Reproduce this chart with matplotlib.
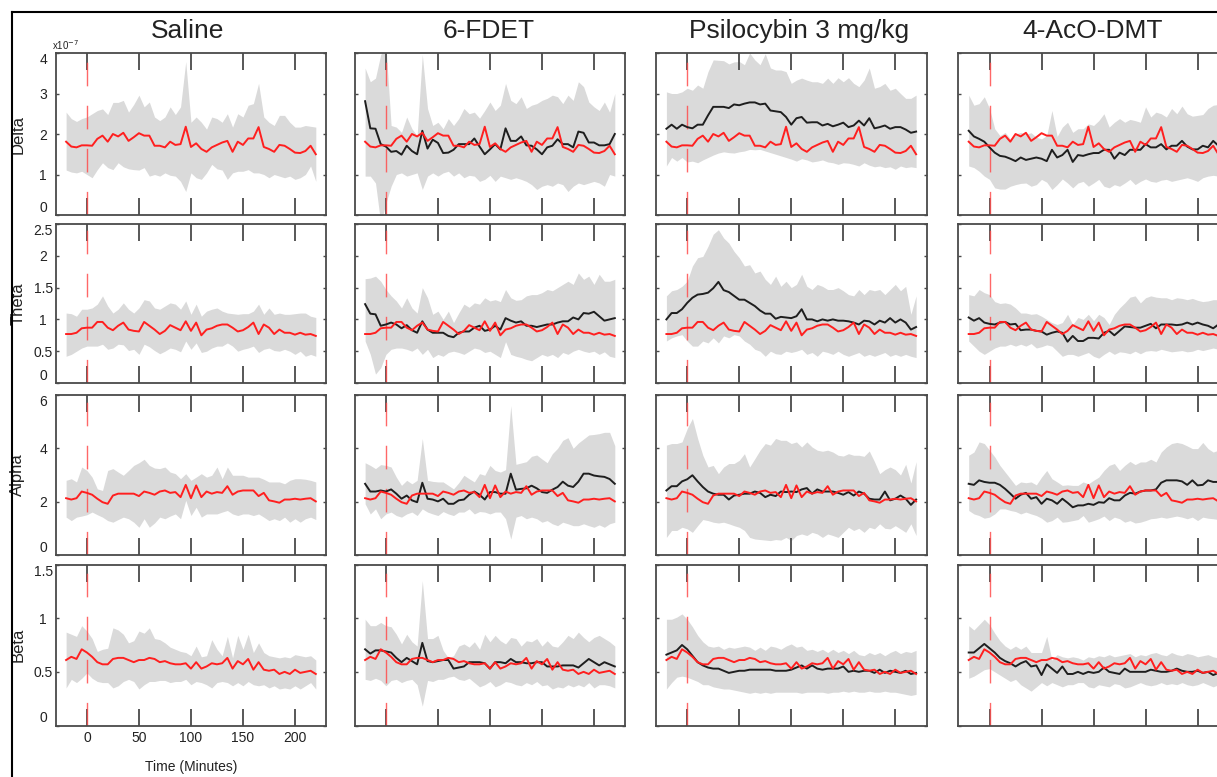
import numpy as np
import matplotlib
matplotlib.use('Agg')
import matplotlib.pyplot as plt
from matplotlib.lines import Line2D

plt.rcParams['font.family'] = ['Liberation Sans', 'DejaVu Sans']

# ---------------- data ----------------
t_start, t_step = -20, 5          # minutes; one sample every 5 min
columns = ['Saline', '6-FDET', 'Psilocybin 3 mg/kg', '4-AcO-DMT']
bands = ['Delta', 'Theta', 'Alpha', 'Beta']
x_ticks = [0, 50, 100, 150, 200]
x_ticklabels = ['0', '50', '100', '150', '200']
x_label = 'Time (Minutes)'
delta_scale_label = 'x10$^{-7}$'

delta_yticks = [0, 1, 2, 3, 4]
theta_yticks = [0, 0.5, 1, 1.5, 2, 2.5]
alpha_yticks = [0, 2, 4, 6]
beta_yticks = [0, 0.5, 1, 1.5]
delta_yticklabels = ['0', '1', '2', '3', '4']
theta_yticklabels = ['0', '0.5', '1', '1.5', '2', '2.5']
alpha_yticklabels = ['0', '2', '4', '6']
beta_yticklabels = ['0', '0.5', '1', '1.5']

# Delta (x1e-7)
saline_delta_mean = [1.81,1.69,1.67,1.72,1.72,1.71,1.88,1.96,1.81,2.00,1.94,2.03,1.83,1.92,2.02,1.96,1.96,1.71,1.71,1.67,1.81,1.73,1.75,2.18,1.68,1.77,1.63,1.56,1.67,1.73,1.79,1.83,1.56,1.81,1.73,1.89,1.89,2.17,1.68,1.63,1.56,1.73,1.71,1.63,1.54,1.53,1.58,1.71,1.50]
saline_delta_hi = [2.54,2.38,2.31,2.38,2.42,2.50,2.58,2.62,2.48,2.78,2.78,2.83,2.54,2.73,2.96,2.67,2.79,2.42,2.33,2.42,2.67,2.48,2.67,3.79,2.29,2.42,2.29,2.12,2.42,2.38,2.29,2.50,2.17,2.50,2.42,2.71,2.75,3.25,2.42,2.29,2.21,2.46,2.46,2.29,2.17,2.17,2.21,2.19,2.17]
saline_delta_lo = [1.11,1.06,1.04,1.08,1.00,0.92,1.12,1.29,1.17,1.12,1.29,1.19,1.14,1.12,1.11,1.17,0.96,1.00,0.96,1.04,0.98,0.96,0.83,0.58,1.04,0.92,0.88,1.04,1.25,1.14,1.11,0.88,1.04,1.08,1.08,1.12,1.04,1.04,1.00,0.92,1.00,0.96,0.92,0.96,0.88,0.92,1.00,1.21,0.83]
fdet_delta_mean = [2.81,2.14,2.13,1.75,1.69,1.56,1.58,1.49,1.71,1.58,1.50,2.08,1.64,1.86,1.78,1.53,1.54,1.61,1.75,1.75,1.75,1.89,1.69,1.50,1.62,1.75,1.62,2.14,1.83,1.83,1.94,1.72,1.71,1.62,1.50,1.67,1.71,1.87,1.75,1.75,1.67,2.06,2.03,1.79,1.79,1.72,1.72,1.75,2.00]
fdet_delta_hi = [3.63,3.29,3.38,3.96,4.20,2.21,2.17,2.04,2.42,2.13,1.96,3.96,2.63,2.21,2.29,2.13,2.38,2.21,2.38,2.63,2.50,2.54,2.39,2.58,2.79,2.58,2.71,3.25,2.83,2.75,2.92,2.63,2.71,2.75,2.83,2.88,2.96,2.92,2.75,2.96,2.83,3.29,3.17,2.79,2.67,2.58,2.79,2.54,3.00]
fdet_delta_lo = [0.96,0.96,0.79,-0.20,0.29,0.71,1.00,1.04,0.96,1.00,1.04,0.63,0.96,1.04,0.96,1.04,1.08,0.96,1.04,0.92,0.98,0.96,0.83,0.88,0.98,0.83,0.96,0.92,0.88,0.92,0.88,0.83,0.75,0.63,0.71,0.75,0.71,0.79,0.75,0.58,0.71,0.79,0.75,0.79,0.83,0.79,0.71,1.00,0.96]
psilo_delta_mean = [2.13,2.23,2.13,2.23,2.17,2.14,2.23,2.23,2.46,2.67,2.67,2.67,2.64,2.73,2.71,2.75,2.78,2.78,2.73,2.75,2.58,2.56,2.54,2.42,2.23,2.39,2.42,2.28,2.29,2.29,2.21,2.25,2.19,2.23,2.28,2.17,2.21,2.33,2.21,2.39,2.14,2.17,2.21,2.13,2.17,2.17,2.11,2.03,2.06]
psilo_delta_hi = [3.04,3.00,3.00,3.04,3.13,3.08,3.21,3.13,3.54,3.83,3.82,3.81,3.73,3.78,3.79,3.71,4.00,3.83,3.71,3.98,3.63,3.58,3.58,3.54,3.25,3.33,3.38,3.33,3.29,3.29,3.25,3.38,3.25,3.39,3.29,3.39,3.25,3.17,3.33,3.63,3.13,3.17,3.25,3.08,3.13,3.00,2.88,2.88,2.96]
psilo_delta_lo = [1.21,1.42,1.33,1.42,1.31,1.33,1.29,1.36,1.42,1.48,1.53,1.56,1.54,1.53,1.56,1.58,1.62,1.61,1.62,1.58,1.54,1.50,1.46,1.42,1.38,1.33,1.39,1.36,1.31,1.33,1.36,1.31,1.29,1.25,1.29,1.28,1.25,1.21,1.29,1.23,1.19,1.21,1.17,1.19,1.13,1.21,1.17,1.19,1.17]
aco_delta_mean = [2.08,1.94,1.88,1.81,1.67,1.54,1.46,1.44,1.39,1.33,1.42,1.36,1.39,1.42,1.39,1.33,1.61,1.42,1.48,1.61,1.31,1.48,1.46,1.50,1.53,1.53,1.61,1.61,1.39,1.54,1.48,1.61,1.61,1.61,1.75,1.67,1.67,1.75,1.62,1.71,1.71,1.83,1.69,1.62,1.62,1.71,1.67,1.83,1.71]
aco_delta_hi = [2.96,2.71,2.75,2.92,2.63,2.13,1.96,2.04,1.88,2.00,2.04,2.00,2.03,1.92,1.88,1.96,2.58,1.94,2.17,2.29,2.04,2.13,2.13,2.25,2.21,2.33,2.50,2.17,2.29,2.38,2.29,2.36,2.33,2.29,2.67,2.42,2.54,2.50,2.42,2.63,2.50,2.69,2.50,2.44,2.46,2.48,2.63,2.71,2.73]
aco_delta_lo = [1.21,1.17,1.08,0.96,0.88,0.67,0.64,0.64,0.71,0.75,0.78,0.79,0.71,0.75,0.88,0.81,0.63,0.75,0.89,0.79,0.67,0.79,0.83,0.71,0.79,0.88,0.71,0.67,0.75,0.71,0.79,0.88,0.75,0.83,0.89,0.83,0.81,0.86,0.88,0.83,0.86,0.89,0.92,0.88,0.83,0.92,0.96,0.98,0.96]

# Theta
saline_theta_mean = [0.77,0.77,0.79,0.86,0.87,0.87,0.96,0.96,0.87,0.83,0.90,0.95,0.84,0.82,0.81,0.96,0.90,0.84,0.77,0.82,0.91,0.87,0.83,0.97,0.82,0.95,0.75,0.84,0.86,0.90,0.92,0.92,0.87,0.81,0.83,0.88,0.95,0.77,0.92,0.87,0.77,0.84,0.79,0.79,0.76,0.79,0.76,0.77,0.74]
saline_theta_hi = [1.10,1.09,1.05,1.16,1.16,1.18,1.24,1.37,1.21,1.10,1.16,1.26,1.16,1.10,1.18,1.31,1.29,1.18,1.16,1.21,1.26,1.24,1.16,1.29,1.08,1.24,1.05,1.13,1.16,1.18,1.13,1.10,1.09,1.08,1.09,1.09,1.13,1.24,1.08,1.18,1.08,1.10,1.08,1.08,1.09,1.10,1.10,1.05,1.03]
saline_theta_lo = [0.42,0.45,0.50,0.55,0.58,0.58,0.58,0.61,0.53,0.55,0.61,0.60,0.51,0.53,0.45,0.61,0.57,0.51,0.46,0.50,0.55,0.53,0.49,0.66,0.53,0.63,0.48,0.50,0.55,0.58,0.58,0.63,0.58,0.50,0.53,0.55,0.58,0.48,0.53,0.55,0.51,0.50,0.53,0.50,0.45,0.50,0.42,0.45,0.42]
fdet_theta_mean = [1.24,1.09,1.08,0.90,0.92,0.95,0.92,0.86,0.91,0.83,0.79,0.97,0.84,0.79,0.79,0.79,0.74,0.72,0.79,0.81,0.81,0.87,0.90,0.82,0.84,0.90,0.84,1.02,0.98,0.95,0.97,0.90,0.90,0.88,0.90,0.92,0.92,0.95,0.97,0.97,1.03,1.00,1.10,1.09,1.12,1.05,0.98,1.00,1.02]
fdet_theta_hi = [1.64,1.65,1.68,1.60,1.47,1.37,1.29,1.18,1.34,1.18,1.10,1.50,1.34,1.08,1.13,1.00,1.13,0.95,1.10,1.24,1.19,1.26,1.24,1.34,1.29,1.31,1.28,1.47,1.34,1.30,1.31,1.37,1.39,1.39,1.42,1.47,1.45,1.50,1.55,1.60,1.55,1.73,1.63,1.68,1.55,1.71,1.60,1.60,1.63]
fdet_theta_lo = [0.66,0.45,0.14,0.24,0.45,0.53,0.55,0.55,0.53,0.50,0.55,0.45,0.53,0.40,0.45,0.42,0.48,0.50,0.48,0.45,0.50,0.55,0.53,0.48,0.50,0.45,0.40,0.65,0.45,0.42,0.40,0.37,0.35,0.40,0.45,0.42,0.45,0.40,0.48,0.45,0.50,0.53,0.50,0.48,0.50,0.45,0.49,0.42,0.40]
psilo_theta_mean = [1.00,1.10,1.10,1.16,1.26,1.34,1.39,1.40,1.42,1.49,1.59,1.46,1.43,1.37,1.31,1.31,1.26,1.21,1.14,1.09,1.09,1.01,1.04,1.03,1.02,1.05,1.16,1.00,1.00,0.97,1.00,0.98,1.00,0.98,0.98,0.97,0.95,0.92,0.98,0.97,0.92,0.98,0.95,1.02,0.95,1.00,0.95,0.84,0.88]
psilo_theta_hi = [1.37,1.45,1.47,1.52,1.60,1.84,1.97,1.99,2.15,2.34,2.41,2.28,2.20,2.07,1.97,1.84,1.86,1.73,1.76,1.63,1.55,1.68,1.52,1.60,1.50,1.55,1.71,1.52,1.47,1.55,1.52,1.47,1.47,1.50,1.45,1.39,1.37,1.47,1.39,1.47,1.45,1.47,1.39,1.47,1.55,1.45,1.52,1.08,1.37]
psilo_theta_lo = [0.66,0.71,0.74,0.76,0.66,0.58,0.58,0.66,0.63,0.71,0.63,0.74,0.71,0.76,0.74,0.66,0.61,0.53,0.50,0.42,0.50,0.46,0.45,0.50,0.48,0.50,0.53,0.45,0.48,0.42,0.50,0.48,0.45,0.50,0.45,0.42,0.45,0.48,0.42,0.45,0.42,0.45,0.48,0.42,0.45,0.42,0.45,0.42,0.40]
aco_theta_mean = [1.03,0.98,1.02,0.95,0.93,0.92,0.95,0.96,0.92,0.93,0.83,0.84,0.84,0.82,0.81,0.76,0.79,0.81,0.79,0.65,0.74,0.66,0.66,0.71,0.71,0.70,0.79,0.82,0.75,0.82,0.89,0.88,0.87,0.87,0.90,0.93,0.86,0.92,0.92,0.92,0.91,0.92,0.95,0.92,0.95,0.92,0.90,0.86,0.92]
aco_theta_hi = [1.39,1.37,1.47,1.42,1.39,1.28,1.25,1.26,1.24,1.18,1.10,1.10,1.08,1.09,1.05,1.00,0.95,0.92,0.95,1.08,0.92,1.03,1.00,1.08,0.98,1.08,1.03,0.92,1.08,1.18,1.26,1.35,1.37,1.26,1.34,1.37,1.35,1.34,1.34,1.31,1.34,1.33,1.31,1.33,1.30,1.28,1.29,1.31,1.31]
aco_theta_lo = [0.66,0.58,0.50,0.45,0.50,0.55,0.58,0.58,0.61,0.58,0.61,0.58,0.62,0.55,0.57,0.60,0.58,0.50,0.42,0.45,0.45,0.42,0.45,0.48,0.42,0.39,0.45,0.50,0.45,0.49,0.48,0.46,0.50,0.46,0.50,0.51,0.50,0.53,0.51,0.49,0.50,0.51,0.49,0.50,0.53,0.51,0.53,0.55,0.53]

# Alpha
saline_alpha_mean = [2.13,2.08,2.13,2.38,2.33,2.26,2.11,1.98,1.92,2.23,2.30,2.30,2.30,2.30,2.21,2.38,2.33,2.26,2.38,2.42,2.33,2.36,2.17,2.63,2.13,2.61,2.17,2.38,2.30,2.36,2.33,2.58,2.26,2.38,2.42,2.42,2.42,2.21,2.33,2.05,2.01,1.96,2.08,2.08,2.11,2.08,2.11,2.13,2.01]
saline_alpha_hi = [2.80,2.86,2.74,3.30,3.17,2.92,2.48,2.42,3.17,3.24,3.11,2.99,3.17,3.36,3.46,3.59,3.36,3.26,3.24,3.30,3.11,3.05,2.86,3.05,2.80,2.92,3.05,2.92,2.99,3.30,2.86,3.30,2.99,2.99,2.99,2.92,2.92,2.92,2.84,2.74,2.74,2.74,2.67,2.80,2.86,2.86,2.84,2.80,2.74]
saline_alpha_lo = [1.42,1.29,1.42,1.46,1.51,1.61,1.51,1.42,1.29,1.23,1.33,1.42,1.36,1.23,1.04,1.36,1.04,1.20,1.42,1.36,1.46,1.54,1.36,2.05,1.48,1.79,1.42,1.54,1.54,1.54,1.61,1.67,1.54,1.48,1.54,1.54,1.48,1.54,1.42,1.29,1.36,1.29,1.42,1.23,1.36,1.23,1.36,1.42,1.33]
fdet_alpha_mean = [2.67,2.38,2.38,2.42,2.38,2.46,2.30,2.11,2.23,2.05,1.98,2.71,2.11,2.08,2.01,2.11,1.92,1.92,2.05,2.08,2.26,2.38,2.26,2.08,2.36,2.36,2.30,2.30,3.05,2.45,2.48,2.50,2.60,2.50,2.36,2.33,2.45,2.55,2.75,2.60,2.55,2.75,3.05,3.05,2.98,2.95,2.93,2.85,2.67]
fdet_alpha_hi = [3.46,3.36,3.24,3.39,3.36,3.30,2.92,2.61,2.80,2.67,2.80,4.37,2.80,2.76,2.74,2.74,2.61,2.48,2.71,2.99,2.86,2.74,3.05,2.99,3.36,3.17,3.11,3.20,5.60,3.40,3.45,3.50,3.70,3.75,3.60,3.46,3.80,4.00,4.30,4.40,4.00,4.20,4.35,4.50,4.52,4.55,4.60,4.60,4.10]
fdet_alpha_lo = [1.92,1.54,1.73,1.36,1.54,1.61,1.48,1.42,1.54,1.61,1.48,1.73,1.61,1.54,1.48,1.63,1.54,1.48,1.61,1.61,1.73,1.54,1.63,1.61,1.54,1.61,1.61,1.36,0.60,1.42,1.48,1.36,1.42,1.36,1.23,1.29,1.17,1.10,1.23,1.17,1.10,1.10,1.17,1.10,1.04,1.13,1.04,1.17,1.23]
psilo_alpha_mean = [2.42,2.58,2.58,2.76,2.84,2.99,2.76,2.55,2.38,2.30,2.26,2.26,2.08,2.23,2.26,2.30,2.30,2.38,2.33,2.17,2.26,2.21,2.38,2.36,2.38,2.36,2.46,2.51,2.30,2.46,2.38,2.38,2.38,2.33,2.26,2.36,2.23,2.38,2.30,2.11,2.08,2.08,2.38,2.05,2.11,2.23,2.11,1.88,2.08]
psilo_alpha_hi = [4.12,4.18,4.18,4.24,4.74,5.12,4.37,3.74,3.30,3.36,3.05,3.30,3.43,3.43,3.55,3.80,3.30,3.61,3.93,4.18,4.12,4.37,4.30,4.30,4.18,4.24,4.05,4.24,4.05,3.93,3.89,3.93,3.86,3.74,3.71,3.80,3.74,3.74,3.70,3.90,3.50,3.05,3.20,3.30,3.20,3.00,3.40,2.70,3.50]
psilo_alpha_lo = [0.66,0.92,0.92,1.04,0.98,0.85,1.10,1.33,1.29,1.23,1.20,1.23,1.17,1.10,1.04,0.92,0.66,0.60,0.58,0.56,0.54,0.58,0.56,0.66,0.54,0.73,0.79,0.73,0.85,0.79,0.66,0.79,0.73,0.66,0.85,1.04,0.92,1.00,0.85,1.04,0.98,1.17,1.00,0.98,1.10,0.98,0.85,1.17,0.73]
aco_alpha_mean = [2.67,2.63,2.80,2.74,2.71,2.71,2.63,2.48,2.30,2.11,2.26,2.33,2.11,2.17,1.92,2.11,2.05,1.92,2.11,1.96,1.79,1.86,1.86,1.92,1.88,1.98,1.96,2.13,2.05,2.05,2.23,2.33,2.30,2.38,2.42,2.42,2.46,2.71,2.80,2.80,2.80,2.76,2.63,2.80,2.61,2.63,2.80,2.74,2.74]
aco_alpha_hi = [3.74,3.86,4.24,4.18,3.93,3.68,3.36,3.11,2.86,2.61,2.74,2.71,2.74,2.63,2.92,3.17,2.86,2.74,2.61,2.63,2.61,2.61,2.74,2.67,2.80,2.92,3.17,3.36,3.43,3.17,3.36,3.51,3.39,3.49,3.49,3.59,3.49,3.86,4.05,4.18,4.22,4.18,4.09,3.99,3.99,4.22,3.99,3.86,3.93]
aco_alpha_lo = [1.67,1.54,1.48,1.38,1.42,1.54,1.73,1.73,1.67,1.63,1.54,1.61,1.54,1.48,1.38,1.23,1.29,1.42,1.23,1.25,1.29,1.33,1.48,1.23,1.29,1.36,1.46,1.29,1.42,1.36,1.23,1.29,1.20,1.23,1.29,1.36,1.38,1.42,1.38,1.42,1.46,1.42,1.36,1.42,1.29,1.42,1.38,1.36,1.33]

# Beta
saline_beta_mean = [0.61,0.64,0.62,0.71,0.68,0.64,0.59,0.57,0.57,0.62,0.63,0.63,0.61,0.59,0.61,0.61,0.63,0.62,0.59,0.60,0.58,0.57,0.57,0.58,0.53,0.59,0.53,0.55,0.58,0.57,0.58,0.63,0.53,0.60,0.57,0.62,0.52,0.59,0.52,0.51,0.52,0.48,0.50,0.48,0.52,0.49,0.50,0.51,0.48]
saline_beta_hi = [0.87,0.85,0.83,0.93,0.88,0.81,0.69,0.71,0.72,0.91,0.89,0.85,0.77,0.79,0.88,0.86,0.91,0.81,0.80,0.77,0.73,0.71,0.69,0.68,0.65,0.74,0.64,0.65,0.80,0.71,0.65,0.83,0.63,0.84,0.71,0.85,0.68,0.77,0.68,0.65,0.64,0.63,0.64,0.63,0.66,0.65,0.64,0.65,0.61]
saline_beta_lo = [0.35,0.43,0.40,0.44,0.49,0.44,0.41,0.40,0.40,0.35,0.37,0.41,0.43,0.41,0.34,0.38,0.41,0.41,0.42,0.42,0.40,0.41,0.41,0.43,0.38,0.41,0.40,0.38,0.35,0.40,0.41,0.40,0.37,0.40,0.37,0.41,0.38,0.37,0.38,0.35,0.37,0.34,0.35,0.34,0.37,0.34,0.37,0.40,0.34]
fdet_beta_mean = [0.71,0.67,0.70,0.70,0.69,0.68,0.63,0.59,0.63,0.60,0.57,0.77,0.60,0.59,0.60,0.61,0.61,0.53,0.54,0.55,0.59,0.59,0.59,0.58,0.53,0.59,0.59,0.58,0.62,0.59,0.59,0.58,0.58,0.59,0.59,0.55,0.55,0.55,0.56,0.56,0.56,0.54,0.58,0.62,0.59,0.56,0.59,0.57,0.55]
fdet_beta_hi = [0.99,0.93,0.93,0.96,0.93,0.92,0.85,0.76,0.85,0.78,0.74,1.35,0.81,0.81,0.84,0.70,0.63,0.65,0.74,0.76,0.73,0.78,0.71,0.85,0.78,0.84,0.79,0.76,0.82,0.81,0.74,0.79,0.78,0.81,0.74,0.79,0.74,0.73,0.78,0.84,0.81,0.87,0.82,0.78,0.82,0.84,0.81,0.78,0.74]
fdet_beta_lo = [0.43,0.42,0.44,0.42,0.37,0.42,0.43,0.40,0.42,0.43,0.38,0.18,0.42,0.41,0.43,0.43,0.45,0.46,0.43,0.42,0.44,0.40,0.36,0.38,0.41,0.36,0.38,0.41,0.40,0.38,0.37,0.40,0.38,0.41,0.37,0.38,0.34,0.36,0.35,0.38,0.36,0.38,0.36,0.40,0.35,0.38,0.38,0.37,0.35]
psilo_beta_mean = [0.66,0.68,0.70,0.75,0.71,0.65,0.59,0.56,0.54,0.53,0.53,0.51,0.49,0.50,0.51,0.51,0.52,0.52,0.52,0.52,0.52,0.51,0.51,0.51,0.52,0.54,0.56,0.53,0.56,0.53,0.52,0.53,0.53,0.53,0.55,0.50,0.51,0.50,0.51,0.51,0.49,0.52,0.49,0.51,0.50,0.49,0.51,0.48,0.49]
psilo_beta_hi = [0.99,0.99,1.01,1.04,0.99,0.92,0.84,0.78,0.74,0.73,0.74,0.71,0.73,0.72,0.73,0.74,0.73,0.70,0.73,0.70,0.74,0.73,0.71,0.74,0.76,0.73,0.74,0.70,0.71,0.69,0.71,0.68,0.71,0.68,0.70,0.67,0.70,0.66,0.65,0.68,0.66,0.68,0.65,0.68,0.70,0.67,0.69,0.68,0.70]
psilo_beta_lo = [0.34,0.40,0.45,0.46,0.45,0.43,0.41,0.38,0.38,0.36,0.35,0.34,0.34,0.33,0.32,0.31,0.30,0.31,0.30,0.31,0.30,0.31,0.31,0.31,0.31,0.31,0.30,0.31,0.31,0.31,0.31,0.30,0.31,0.31,0.32,0.31,0.32,0.31,0.31,0.32,0.31,0.31,0.32,0.31,0.31,0.30,0.29,0.28,0.29]
aco_beta_mean = [0.68,0.68,0.72,0.76,0.72,0.68,0.63,0.60,0.58,0.55,0.58,0.60,0.55,0.56,0.47,0.57,0.53,0.49,0.55,0.48,0.48,0.50,0.48,0.50,0.49,0.50,0.54,0.50,0.49,0.48,0.53,0.50,0.50,0.50,0.50,0.52,0.51,0.50,0.50,0.51,0.53,0.51,0.50,0.50,0.51,0.49,0.50,0.47,0.49]
aco_beta_hi = [0.93,0.89,0.94,0.99,0.94,0.86,0.79,0.74,0.71,0.74,0.71,0.74,0.68,0.68,0.68,0.83,0.61,0.66,0.64,0.63,0.64,0.63,0.61,0.64,0.63,0.65,0.64,0.66,0.64,0.65,0.66,0.67,0.64,0.66,0.65,0.67,0.68,0.66,0.65,0.68,0.66,0.65,0.67,0.66,0.64,0.65,0.66,0.64,0.63]
aco_beta_lo = [0.44,0.46,0.49,0.52,0.53,0.50,0.47,0.44,0.41,0.43,0.38,0.35,0.32,0.36,0.40,0.37,0.40,0.38,0.36,0.38,0.38,0.40,0.40,0.36,0.35,0.38,0.37,0.36,0.39,0.38,0.35,0.36,0.38,0.40,0.38,0.37,0.38,0.40,0.38,0.39,0.38,0.40,0.38,0.37,0.38,0.40,0.38,0.36,0.38]

# tables built from the named arrays
band_ticks = {'Delta': (delta_yticks, delta_yticklabels), 'Theta': (theta_yticks, theta_yticklabels),
              'Alpha': (alpha_yticks, alpha_yticklabels), 'Beta': (beta_yticks, beta_yticklabels)}
saline_mean = {'Delta': saline_delta_mean, 'Theta': saline_theta_mean,
               'Alpha': saline_alpha_mean, 'Beta': saline_beta_mean}
groups = {
    ('Saline', 'Delta'): (None, saline_delta_lo, saline_delta_hi),
    ('Saline', 'Theta'): (None, saline_theta_lo, saline_theta_hi),
    ('Saline', 'Alpha'): (None, saline_alpha_lo, saline_alpha_hi),
    ('Saline', 'Beta'): (None, saline_beta_lo, saline_beta_hi),
    ('6-FDET', 'Delta'): (fdet_delta_mean, fdet_delta_lo, fdet_delta_hi),
    ('6-FDET', 'Theta'): (fdet_theta_mean, fdet_theta_lo, fdet_theta_hi),
    ('6-FDET', 'Alpha'): (fdet_alpha_mean, fdet_alpha_lo, fdet_alpha_hi),
    ('6-FDET', 'Beta'): (fdet_beta_mean, fdet_beta_lo, fdet_beta_hi),
    ('Psilocybin 3 mg/kg', 'Delta'): (psilo_delta_mean, psilo_delta_lo, psilo_delta_hi),
    ('Psilocybin 3 mg/kg', 'Theta'): (psilo_theta_mean, psilo_theta_lo, psilo_theta_hi),
    ('Psilocybin 3 mg/kg', 'Alpha'): (psilo_alpha_mean, psilo_alpha_lo, psilo_alpha_hi),
    ('Psilocybin 3 mg/kg', 'Beta'): (psilo_beta_mean, psilo_beta_lo, psilo_beta_hi),
    ('4-AcO-DMT', 'Delta'): (aco_delta_mean, aco_delta_lo, aco_delta_hi),
    ('4-AcO-DMT', 'Theta'): (aco_theta_mean, aco_theta_lo, aco_theta_hi),
    ('4-AcO-DMT', 'Alpha'): (aco_alpha_mean, aco_alpha_lo, aco_alpha_hi),
    ('4-AcO-DMT', 'Beta'): (aco_beta_mean, aco_beta_lo, aco_beta_hi),
}


def times(series):
    return t_start + t_step * np.arange(len(series))


# ---------------- layout / style ----------------
W, H = 1217, 777
fig = plt.figure(figsize=(W / 100, H / 100), dpi=100)
col_left = [55.7, 354.7, 656.0, 958.3]
col_w = 270.5
row_top = [53.0, 224.0, 395.0, 564.5]
row_h = [162.0, 159.0, 160.0, 161.0]
title_x = [188, 489, 799, 1093]

GRAY = '#dadada'
RED = '#ff1f1f'
BLACK = '#1e1e1e'
EDGE = '#4a4a4a'
TXT = '#222222'

for r, band in enumerate(bands):
    ticks, ticklabels = band_ticks[band]
    for c, col in enumerate(columns):
        ax = fig.add_axes([col_left[c] / W, 1 - (row_top[r] + row_h[r]) / H,
                           col_w / W, row_h[r] / H])
        drug_mean, lo, hi = groups[(col, band)]
        n = min(len(lo), len(hi))
        ax.fill_between(times(lo)[:n], np.array(lo[:n]), np.array(hi[:n]),
                        color=GRAY, lw=0, zorder=1)
        ax.axvline(0, color='#ff4d4d', lw=1.0, alpha=0.85, dashes=(17, 14), zorder=2)
        if drug_mean is not None:
            ax.plot(times(drug_mean), drug_mean, color=BLACK, lw=1.4, zorder=3)
        sm = saline_mean[band]
        ax.plot(times(sm), sm, color=RED, lw=1.4, zorder=4)

        ax.set_xlim(-30, 230)
        ax.set_ylim(ticks[0], ticks[-1])
        ax.set_xticks(x_ticks)
        ax.set_yticks(ticks)
        for s in ax.spines.values():
            s.set_color(EDGE)
            s.set_linewidth(1.3)
        ax.tick_params(axis='x', direction='in', length=12.5, width=1.3, color=EDGE,
                       top=True, bottom=True, pad=4, labelsize=10, labelcolor=TXT)
        ax.tick_params(axis='y', direction='in', length=2.5, width=1.0, color=EDGE,
                       left=True, right=True, pad=9, labelsize=10, labelcolor=TXT)

        if c == 0:
            ax.set_yticklabels(ticklabels)
            labs = ax.get_yticklabels()
            for lab in labs:
                lab.set_ha('center')
            labs[0].set_va('bottom')
            labs[-1].set_va('top')
            ax.set_ylabel(band, fontsize=12, color=TXT)
            ax.yaxis.set_label_coords(-0.113, 0.5)
        else:
            ax.set_yticklabels([])

        if r == 3 and c == 0:
            ax.set_xticklabels(x_ticklabels)
            ax.set_xlabel(x_label, fontsize=10, color=TXT, labelpad=11)
        else:
            ax.set_xticklabels([])

        if r == 0 and c == 0:
            ax.text(-0.012, 1.004, delta_scale_label, transform=ax.transAxes,
                    ha='left', va='bottom', fontsize=7, color=TXT)

# column titles
for c, col in enumerate(columns):
    fig.text(title_x[c] / W, 1 - 38 / H, col, ha='center',
             va='baseline', fontsize=19, color=TXT)

# outer frame lines (left and top border of the original figure crop)
fig.add_artist(Line2D([11.5 / W, 11.5 / W], [0, 1 - 11.5 / H], color='black',
                      lw=1.5, transform=fig.transFigure))
fig.add_artist(Line2D([11.5 / W, 1.0], [1 - 11.5 / H, 1 - 11.5 / H], color='black',
                      lw=1.5, transform=fig.transFigure))

fig.savefig('out.png', dpi=100)
